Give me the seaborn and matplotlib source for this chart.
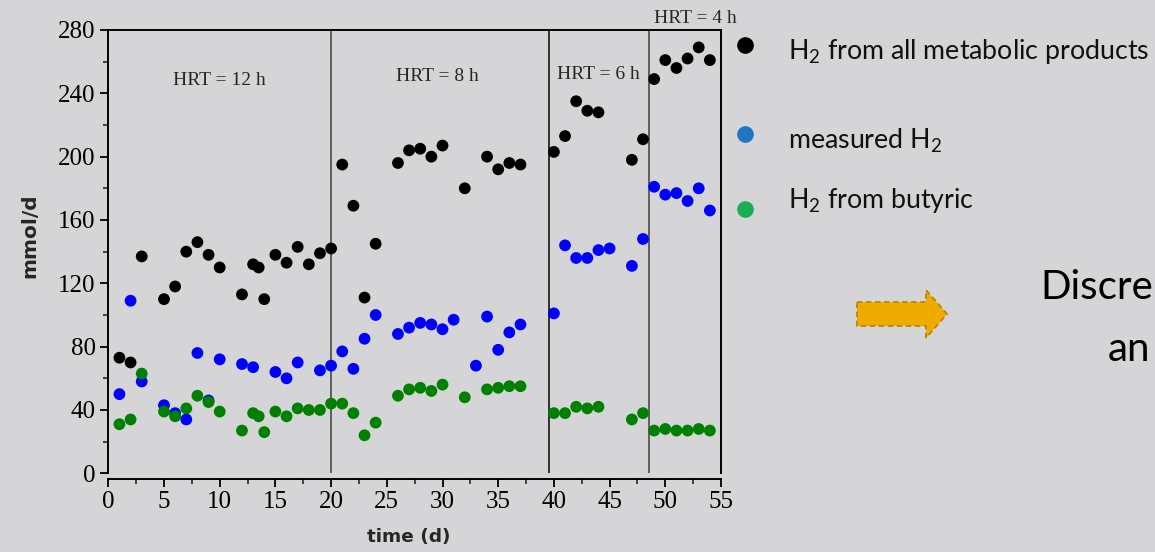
import numpy as np
import pandas as pd
import matplotlib
matplotlib.use("Agg")
import matplotlib.pyplot as plt
import seaborn as sns
from matplotlib.lines import Line2D
from matplotlib.patches import Polygon
from matplotlib.ticker import MultipleLocator

# --- data (mmol/d per operating day) ---
days_all = [1, 2, 3, 5, 6, 7, 8, 9, 10, 12, 13, 13.5, 14, 15, 16, 17, 18, 19, 20,
            21, 22, 23, 24, 26, 27, 28, 29, 30, 32, 34, 35, 36, 37,
            40, 41, 42, 43, 44, 47, 48, 49, 50, 51, 52, 53, 54]
h2_all = [73, 70, 137, 110, 118, 140, 146, 138, 130, 113, 132, 130, 110, 138, 133, 143, 132, 139, 142,
          195, 169, 111, 145, 196, 204, 205, 200, 207, 180, 200, 192, 196, 195,
          203, 213, 235, 229, 228, 198, 211, 249, 261, 256, 262, 269, 261]

days_meas = [1, 2, 3, 5, 6, 7, 8, 9, 10, 12, 13, 15, 16, 17, 19, 20,
             21, 22, 23, 24, 26, 27, 28, 29, 30, 31, 33, 34, 35, 36, 37,
             40, 41, 42, 43, 44, 45, 47, 48, 49, 50, 51, 52, 53, 54]
h2_meas = [50, 109, 58, 43, 38, 34, 76, 46, 72, 69, 67, 64, 60, 70, 65, 68,
           77, 66, 85, 100, 88, 92, 95, 94, 91, 97, 68, 99, 78, 89, 94,
           101, 144, 136, 136, 141, 142, 131, 148, 181, 176, 177, 172, 180, 166]

days_but = days_all
h2_but = [31, 34, 63, 39, 36, 41, 49, 45, 39, 27, 38, 36, 26, 39, 36, 41, 40, 40, 44,
          44, 38, 24, 32, 49, 53, 54, 52, 56, 48, 53, 54, 55, 55,
          38, 38, 42, 41, 42, 34, 38, 27, 28, 27, 27, 28, 27]

series_names = ["all", "measured", "butyric"]
legend_labels = [r"$\mathregular{H_2}$ from all metabolic products",
                 r"measured $\mathregular{H_2}$",
                 r"$\mathregular{H_2}$ from butyric"]

hrt_bounds = [20, 39.6, 48.5]
hrt_labels = ["HRT = 12 h", "HRT = 8 h", "HRT = 6 h", "HRT = 4 h"]
hrt_label_x = [10, 29.5, 44.0, 52.7]
hrt_label_y = [248, 250.5, 252, 287]

df = pd.concat([
    pd.DataFrame({"day": days_all, "value": h2_all, "series": "all"}),
    pd.DataFrame({"day": days_meas, "value": h2_meas, "series": "measured"}),
    pd.DataFrame({"day": days_but, "value": h2_but, "series": "butyric"}),
], ignore_index=True)

BG = "#d5d5d7"
sns.set_style("ticks")
plt.rcParams["font.family"] = ["Liberation Serif", "DejaVu Serif"]
plt.rcParams["mathtext.fontset"] = "custom"
plt.rcParams["mathtext.rm"] = "Lato"

fig = plt.figure(figsize=(11.55, 5.52), dpi=100, facecolor=BG)
ax = fig.add_axes([108.3 / 1155, 1 - 473.3 / 552, (721 - 108.3) / 1155, (473.3 - 30) / 552])
ax.set_facecolor(BG)

palette = {"all": "#000000", "measured": "#0000ff", "butyric": "#008000"}
sns.scatterplot(data=df, x="day", y="value", hue="series", palette=palette,
                hue_order=series_names, s=72, edgecolor="none", linewidth=0,
                legend=False, ax=ax, zorder=3)

ax.set_xlim(0, 55)
ax.set_ylim(0, 280)

# phase separators
sep_colors = ["#555555", "#222222", "#555555"]
for xb, c in zip(hrt_bounds, sep_colors):
    ax.axvline(xb, color=c, lw=1.3, zorder=2)

for lbl, lx, ly in zip(hrt_labels, hrt_label_x, hrt_label_y):
    ax.text(lx, ly, lbl, ha="center", va="center", fontsize=14,
            family=["Liberation Serif"], clip_on=False)

for side in ["left", "right", "top", "bottom"]:
    ax.spines[side].set_visible(True)
    ax.spines[side].set_color("black")
    ax.spines[side].set_linewidth(1.4)
ax.spines["bottom"].set_position(("outward", 4))

ax.xaxis.set_major_locator(MultipleLocator(5))
ax.xaxis.set_minor_locator(MultipleLocator(2.5))
ax.yaxis.set_major_locator(MultipleLocator(40))
ax.yaxis.set_minor_locator(MultipleLocator(20))
ax.tick_params(axis="both", which="major", direction="out", length=6, width=1.3,
               labelsize=18, colors="black", pad=3)
ax.tick_params(axis="both", which="minor", direction="out", length=3.5, width=1.2)
ax.tick_params(axis="y", which="both", right=False)
ax.tick_params(axis="x", which="both", top=False)

ax.set_xlabel("time (d)", family=["DejaVu Sans"], fontweight="bold", fontsize=13.3)
ax.set_ylabel("mmol/d", family=["DejaVu Sans"], fontweight="bold", fontsize=14.5)
ax.xaxis.set_label_coords(0.491, -0.1437)
ax.yaxis.set_label_coords(-0.128, 0.535)
ax.xaxis.label.set_va("center")
ax.yaxis.label.set_va("center")

# legend built at the right of the plot
leg_marker_colors = ["#000000", "#2175c5", "#1cae55"]
leg_marker_y = [45, 134, 209]
leg_text_y = [52, 141, 200]
for lbl, mc, my, ty in zip(legend_labels, leg_marker_colors, leg_marker_y, leg_text_y):
    fig.add_artist(Line2D([745 / 1155], [1 - my / 552], marker="o", markersize=11,
                          color=mc, markeredgecolor=mc, linestyle="none",
                          transform=fig.transFigure))
    fig.text(788 / 1155, 1 - ty / 552, lbl, ha="left", va="center", fontsize=19.3,
             family=["Lato"], color="#111111")

# block arrow
arrow_px = [(857, 302), (926, 302), (926, 290), (947, 314), (926, 338), (926, 326), (857, 326)]
arrow = Polygon([(x / 1155, 1 - y / 552) for x, y in arrow_px], closed=True,
                transform=fig.transFigure, facecolor="#f0ab00", edgecolor="#b8860b",
                linestyle=(0, (3, 2)), linewidth=1.3)
fig.add_artist(arrow)

fig.text(1040 / 1155, 1 - 299 / 552, "Discre", ha="left", va="baseline", fontsize=29,
         family=["Lato"], color="black")
fig.text(1108 / 1155, 1 - 361 / 552, "an", ha="left", va="baseline", fontsize=29,
         family=["Lato"], color="black")

fig.savefig("out.png", dpi=100, facecolor=BG)
